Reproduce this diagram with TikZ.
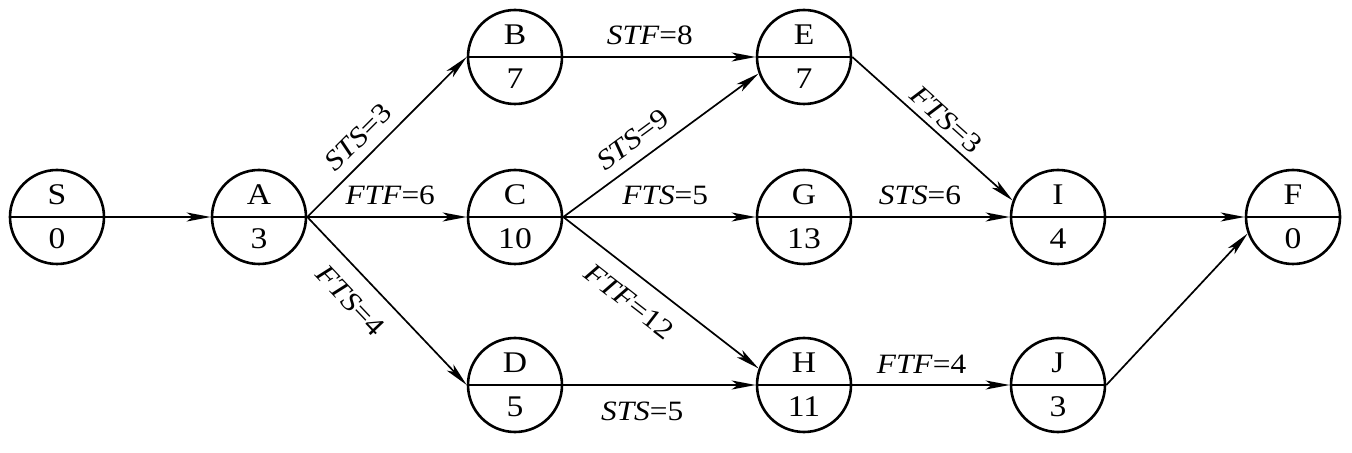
\documentclass[tikz,border=0pt]{standalone}
\usepackage{fontspec}
\setmainfont{Liberation Serif}[FakeStretch=1.12]
\usetikzlibrary{arrows.meta}
\begin{document}
\begin{tikzpicture}[x=0.5pt, y=-0.5pt,
  act/.style={circle, draw, line width=1.3pt, minimum size=47pt, inner sep=0pt,
    align=center, font=\fontsize{15}{16}\selectfont,
    path picture={\draw[line width=0.9pt] (path picture bounding box.west) -- (path picture bounding box.east);}},
  link/.style={line width=0.85pt, -{Stealth[length=12pt, width=4.5pt, inset=3pt]}},
  lag/.style={font=\fontsize{14}{15}\selectfont, inner sep=2pt}]
\useasboundingbox (0,0) rectangle (1352,453);
\foreach \n/\x/\y/\d in {S/57/217/0, A/259/217/3, B/515/57/7, C/515/217/10, D/515/385/5,
    E/804/57/7, G/804/217/13, H/804/385/11, I/1058/217/4, J/1058/385/3, F/1293/217/0}
  \node[act] (\n) at (\x,\y) {\n\\[6pt]\d};
\draw[link] (S.east) -- (A.west);
\draw[link] (A.east) -- node[lag, above=3pt, sloped, pos=.41] (ab) {\textit{STS}=3} (B.west);
\draw[link] (A.east) -- node[lag, above=3.5pt, pos=.52] (ac) {\textit{FTF}=6} (C.west);
\draw[link] (A.east) -- node[lag, below=6pt, sloped, pos=.39] (ad) {\textit{FTS}=4} (D.west);
\draw[link] (B.east) -- node[lag, above=3.5pt, pos=.45] (be) {\textit{STF}=8} (E.west);
\draw[link] (C.east) -- node[lag, above=3.5pt, sloped, pos=.42] (ce) {\textit{STS}=9} (E.200);
\draw[link] (C.east) -- node[lag, above=3.5pt, pos=.53] (cg) {\textit{FTS}=5} (G.west);
\draw[link] (C.east) -- node[lag, below=6pt, sloped, pos=.42] (ch) {\textit{FTF}=12} (H.160);
\draw[link] (D.east) -- node[lag, below=6pt, pos=.41] (dh) {\textit{STS}=5} (H.west);
\draw[link] (E.east) -- node[lag, above=1pt, sloped, pos=.52] (ei) {\textit{FTS}=3} (I.160);
\draw[link] (G.east) -- node[lag, above=3.5pt, pos=.43] (gi) {\textit{STS}=6} (I.west);
\draw[link] (H.east) -- node[lag, above=3.5pt, pos=.44] (hj) {\textit{FTF}=4} (J.west);
\draw[link] (I.east) -- (F.west);
\draw[link] (J.east) -- (F.200);
\end{tikzpicture}
\end{document}
